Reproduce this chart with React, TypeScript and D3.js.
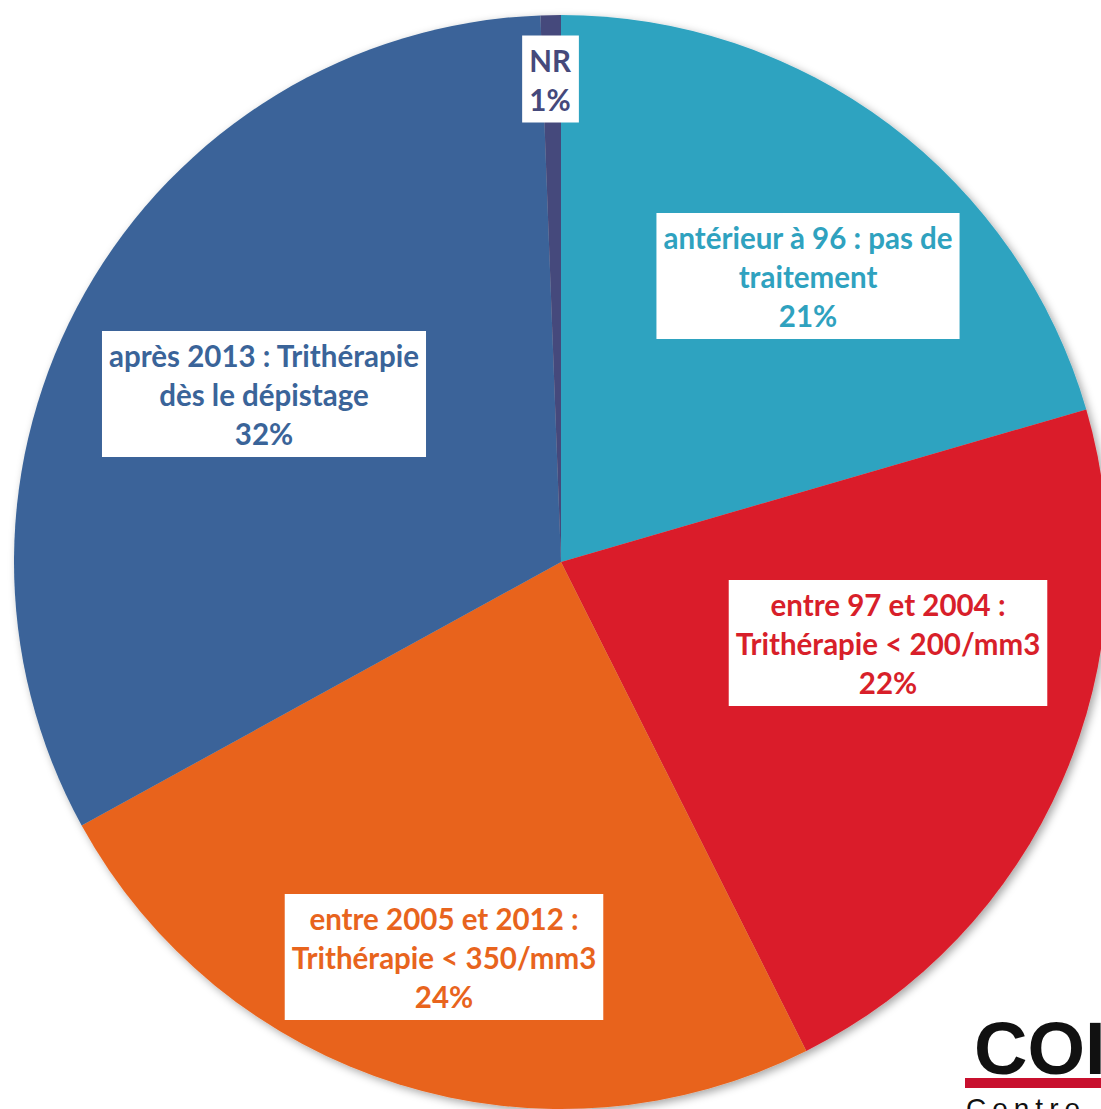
import * as React from 'react';
import {useEffect, useRef} from 'react';
import * as d3 from 'd3';

// slices, clockwise from 12 o'clock
const categories = [
    'antérieur à 96 : pas de\ntraitement',
    'entre 97 et 2004 :\nTrithérapie < 200/mm3',
    'entre 2005 et 2012 :\nTrithérapie < 350/mm3',
    'après 2013 : Trithérapie\ndès le dépistage',
    'NR',
];
const values = [20.5, 22.1, 24.4, 32.4, 0.6];
const percentLabels = ['21%', '22%', '24%', '32%', '1%'];
const colors = ['#2EA3C0', '#DA1F2A', '#E8641D', '#3A6499', '#45497B'];
const textColors = ['#2FA2BF', '#D81F2A', '#E8641D', '#3A6499', '#45497B'];

// label anchors relative to the pie centre (layout only)
const labelAnchors: Array<[number, number]> = [
    [247, -286],
    [327, 81],
    [-117, 395],
    [-297, -168],
    [-11, -483],
];

const W = 1101;
const H = 1109;
const cx = 561;
const cy = 562;
const radius = 547;
const lineH = 39;

export default function App() {
    const ref = useRef<SVGSVGElement>(null);

    useEffect(() => {
        const svg = d3.select(ref.current);
        svg.selectAll('*').remove();

        const defs = svg.append('defs');
        const f = defs.append('filter').attr('id', 'shadow')
            .attr('x', '-10%').attr('y', '-10%').attr('width', '120%').attr('height', '120%');
        f.append('feDropShadow')
            .attr('dx', 3).attr('dy', 3).attr('stdDeviation', 4)
            .attr('flood-color', '#000').attr('flood-opacity', 0.35);

        const g = svg.append('g').attr('transform', `translate(${cx},${cy})`);

        const pie = d3.pie<number>().sort(null).value(d => d);
        const arc = d3.arc<d3.PieArcDatum<number>>().innerRadius(0).outerRadius(radius);
        const arcs = pie(values);

        g.append('g').attr('filter', 'url(#shadow)')
            .selectAll('path')
            .data(arcs)
            .enter()
            .append('path')
            .attr('d', arc)
            .attr('fill', (d, i) => colors[i]);

        arcs.forEach((d, i) => {
            const lines = categories[i].split('\n').concat([percentLabels[i]]);
            const [ax, ay] = labelAnchors[i];
            const lg = g.append('g').attr('transform', `translate(${ax},${ay})`);
            const rect = lg.append('rect').attr('fill', '#fff');
            const txt = lg.append('text')
                .attr('text-anchor', 'middle')
                .attr('font-family', 'Lato, "Open Sans", sans-serif')
                .attr('font-weight', 700)
                .attr('font-size', 29.5)
                .attr('fill', textColors[i]);
            const top = -((lines.length - 1) * lineH) / 2;
            lines.forEach((l, k) => {
                txt.append('tspan')
                    .attr('x', 0)
                    .attr('y', top + k * lineH + 2)
                    .attr('dy', '0.35em')
                    .text(l);
            });
            const bb = (txt.node() as SVGTextElement).getBBox();
            const h = lines.length * lineH + 9;
            rect.attr('x', bb.x - 7).attr('width', bb.width + 14)
                .attr('y', -h / 2).attr('height', h);
        });

        // partial logo in the corner (cut by the image edge, as in the source)
        const logo = svg.append('g');
        logo.append('text')
            .attr('x', 974).attr('y', 1074)
            .attr('font-family', '"Liberation Sans", Arial, sans-serif')
            .attr('font-weight', 700)
            .attr('font-size', 74)
            .attr('fill', '#111')
            .text('COI');
        logo.append('rect')
            .attr('x', 965).attr('y', 1078).attr('width', W - 965).attr('height', 10)
            .attr('fill', '#C8102E');
        logo.append('text')
            .attr('x', 966).attr('y', 1118)
            .attr('font-family', '"Liberation Sans", Arial, sans-serif')
            .attr('font-size', 28)
            .attr('letter-spacing', 6)
            .attr('fill', '#111')
            .text('Centre');
    }, []);

    return (
        <svg ref={ref} width={W} height={H}
             style={{position: 'absolute', left: 0, top: 0, background: '#fff'}} />
    );
}
